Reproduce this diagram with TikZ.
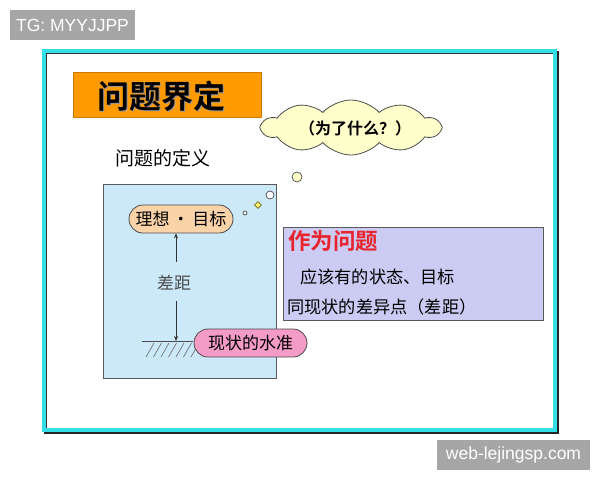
\documentclass[tikz,border=0pt]{standalone}
\usepackage{fontspec}
\setmainfont{Liberation Sans}
\newfontfamily\cjk{Noto Sans CJK SC}
\newfontfamily\cjkb{Noto Sans CJK SC Bold}
\usetikzlibrary{shapes.symbols,shapes.geometric,arrows.meta}
\definecolor{cyanf}{HTML}{33E0E8}
\definecolor{orangeb}{HTML}{FF9A00}
\definecolor{lblue}{HTML}{CCE9F9}
\definecolor{peach}{HTML}{FBD3A8}
\definecolor{pinkf}{HTML}{F49BC8}
\definecolor{lav}{HTML}{CBCBF3}
\definecolor{cloudf}{HTML}{FFFFCC}
\definecolor{wmgray}{HTML}{A6A6A6}
\definecolor{redt}{HTML}{E8242E}
\tikzset{
  wm/.style={fill=wmgray,text=white,inner sep=0pt,font=\fontsize{17.5}{17.5}\selectfont},
  pill/.style={draw=black!70,line width=0.8pt,rounded corners=14pt,inner sep=0pt,font=\cjk\fontsize{17}{17}\selectfont},
  bodytxt/.style={font=\cjk\fontsize{17.2}{17.2}\selectfont,anchor=west,inner sep=0pt},
  deco/.style={draw=black!70,line width=0.7pt},
  arr/.style={-{Stealth[length=5pt,width=4pt]},black!80,line width=0.7pt}
}
\begin{document}
\begin{tikzpicture}[x=1pt,y=-1pt]
\useasboundingbox (0,0) rectangle (600,480);
\fill[white] (0,0) rectangle (600,480);
% watermarks
\node[wm,minimum width=125pt,minimum height=30pt] (tg) at (72.5,25) {TG: MYYJJPP};
\node[wm,minimum width=153pt,minimum height=30pt] (web) at (513.5,455) {web-lejingsp.com};
% frame
\fill[black!85] (44,51) rectangle (559,434);
\fill[cyanf] (42,49) rectangle (557,432);
\fill[black!80] (46,53) rectangle (553,428);
\fill[white] (47,54) rectangle (553,428);
% title
\node[fill=orangeb,draw=orangeb!80!black,line width=0.4pt,minimum width=188pt,minimum height=45pt,inner sep=0pt] (title) at (167,94.5) {};
\node[font=\cjkb\fontsize{32}{32}\selectfont,text=black!40,inner sep=0pt] at (162.5,97.5) {问题界定};
\node[font=\cjkb\fontsize{32}{32}\selectfont,inner sep=0pt] (titletxt) at (161,96) {问题界定};
% cloud
\node[cloud,cloud puffs=10,cloud puff arc=95,aspect=3.4,fill=cloudf,draw=black!70,line width=0.8pt,minimum width=178pt,minimum height=55pt,inner sep=0pt] (cloud) at (351,127.5) {};
\node[font=\cjkb\fontsize{16}{16}\selectfont,inner sep=0pt] (why) at (355,128) {（为了什么？）};
\node[circle,fill=cloudf,deco,minimum size=10pt,inner sep=0pt] (c1) at (297,177) {};
% definition
\node[font=\cjk\fontsize{19}{19}\selectfont,anchor=west,inner sep=0pt] (def) at (115,158) {问题的定义};
\node[draw=black!65,line width=0.8pt,fill=lblue,minimum width=173pt,minimum height=194pt,inner sep=0pt] (bluebox) at (189.5,281) {};
\node[circle,fill=white,deco,minimum size=8pt,inner sep=0pt] (c2) at (270,195) {};
\node[diamond,fill=yellow!60,draw=olive!70!black,line width=0.6pt,minimum size=7pt,inner sep=0pt] (d1) at (258,205) {};
\node[circle,fill=white,deco,minimum size=4pt,inner sep=0pt] (c3) at (245,213) {};
% ideal pill
\node[pill,fill=peach,minimum width=104pt,minimum height=28pt] (ideal) at (181,219) {理想\,•\,目标};
% ground
\coordinate (g1) at (142,341);
\coordinate (g2) at (193,341);
\draw[black!70,line width=0.8pt] (g1) -- (g2);
\foreach \i in {0,...,6} {\draw[black!60,line width=0.6pt] (146+\i*7.5,357) -- (154+\i*7.5,343);}
\coordinate (gmid) at (176,341);
% gap label and arrows
\node[font=\cjk\fontsize{17}{17}\selectfont,text=black!70,inner sep=2pt] (gap) at (174,283) {差距};
\draw[arr] (176,262) -- (ideal.south -| gmid);
\draw[arr] (176,301) -- (gmid);
% status pill
\node[pill,fill=pinkf,minimum width=113pt,minimum height=28pt] (status) at (250.5,343) {现状的水准};
% problem box
\node[draw=black!65,line width=0.8pt,fill=lav,minimum width=260pt,minimum height=93pt,inner sep=0pt] (pbox) at (413,273.5) {};
\node[font=\cjkb\fontsize{22.5}{22.5}\selectfont,text=redt,anchor=west,inner sep=0pt] (ptitle) at (288,241) {作为问题};
\node[bodytxt] (l1) at (300,277) {应该有的状态、目标};
\node[bodytxt] (l2) at (287,307) {同现状的差异点（差距）};
\end{tikzpicture}
\end{document}
